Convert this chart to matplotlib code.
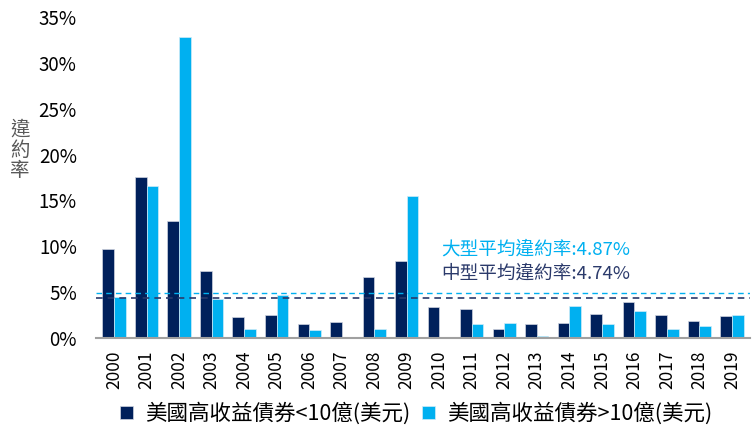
import matplotlib
matplotlib.use("Agg")
import matplotlib.pyplot as plt
import numpy as np
from matplotlib.ticker import FuncFormatter

plt.rcParams["font.family"] = ["Noto Sans CJK TC", "DejaVu Sans"]

years = [str(y) for y in range(2000, 2020)]
# default rate (%) of US high-yield bonds, issue size < 1bn / > 1bn USD
mid_rate = [9.67, 17.5, 12.75, 7.28, 2.32, 2.46, 1.52, 1.77, 6.63, 8.37,
            3.37, 3.12, 0.94, 1.52, 1.6, 2.58, 3.88, 2.46, 1.88, 2.39]
large_rate = [4.42, 16.55, 32.8, 4.28, 0.94, 4.64, 0.87, 0.0, 0.94, 15.43,
              0.0, 1.55, 1.6, 0.2, 3.45, 1.49, 2.97, 0.94, 1.3, 2.5]
large_avg = 4.87
mid_avg = 4.74
mid_avg_line = 4.3  # where the dashed line sits in the picture

dark = "#00205B"
light = "#00B0F0"

fig = plt.figure(figsize=(7.52, 4.25), dpi=100)
ax = fig.add_axes([0.128, 0.205, 0.869, 0.755])

x = np.arange(len(years))
w = 0.36
ax.bar(x - w / 2, mid_rate, w, color=dark, edgecolor="#D0D4E0", linewidth=0.5,
       label="美國高收益債券<10億(美元)")
ax.bar(x + w / 2, large_rate, w, color=light, edgecolor="#D0ECF8", linewidth=0.5,
       label="美國高收益債券>10億(美元)")

ax.axhline(large_avg, color=light, ls=(0, (4, 3)), lw=1.0)
ax.axhline(mid_avg_line, color="#2B3A6B", ls=(0, (4, 3)), lw=1.2)

# texts placed in pixels (display coords, origin bottom-left)
ax.text(441, 425 - 250, f"大型平均違約率:{large_avg}%", transform=None, color=light,
        fontsize=13.4, va="center", ha="left")
ax.text(441, 425 - 274, f"中型平均違約率:{mid_avg}%", transform=None, color="#2B3A6B",
        fontsize=13.4, va="center", ha="left")

ax.set_xlim(-0.55, len(years) - 0.45)
ax.set_ylim(0, 35)
ax.set_yticks(np.arange(0, 36, 5))
ax.yaxis.set_major_formatter(FuncFormatter(lambda v, p: f"{v:.0f}%"))
ax.set_xticks(x)
ax.set_xticklabels(years, rotation=90)
ax.tick_params(axis="both", length=0, colors="#000000")
ax.tick_params(axis="x", pad=9, labelsize=12.5)
ax.tick_params(axis="y", pad=14, labelsize=13.5)

for s in ["top", "right", "left"]:
    ax.spines[s].set_visible(False)
ax.spines["bottom"].set_color("#A0A0A0")
ax.spines["bottom"].set_linewidth(1.5)

fig.text(20, 425 - 150, "違\n約\n率", transform=None, fontsize=14, ha="center",
         va="center", linespacing=1.0, color="#595959")

fig.legend(loc="center", bbox_to_anchor=(0.553, 0.026), ncol=2, frameon=False,
           fontsize=15.5, handlelength=0.6, handleheight=0.6, handletextpad=0.56,
           columnspacing=0.56)

fig.savefig("out.png", dpi=100)
